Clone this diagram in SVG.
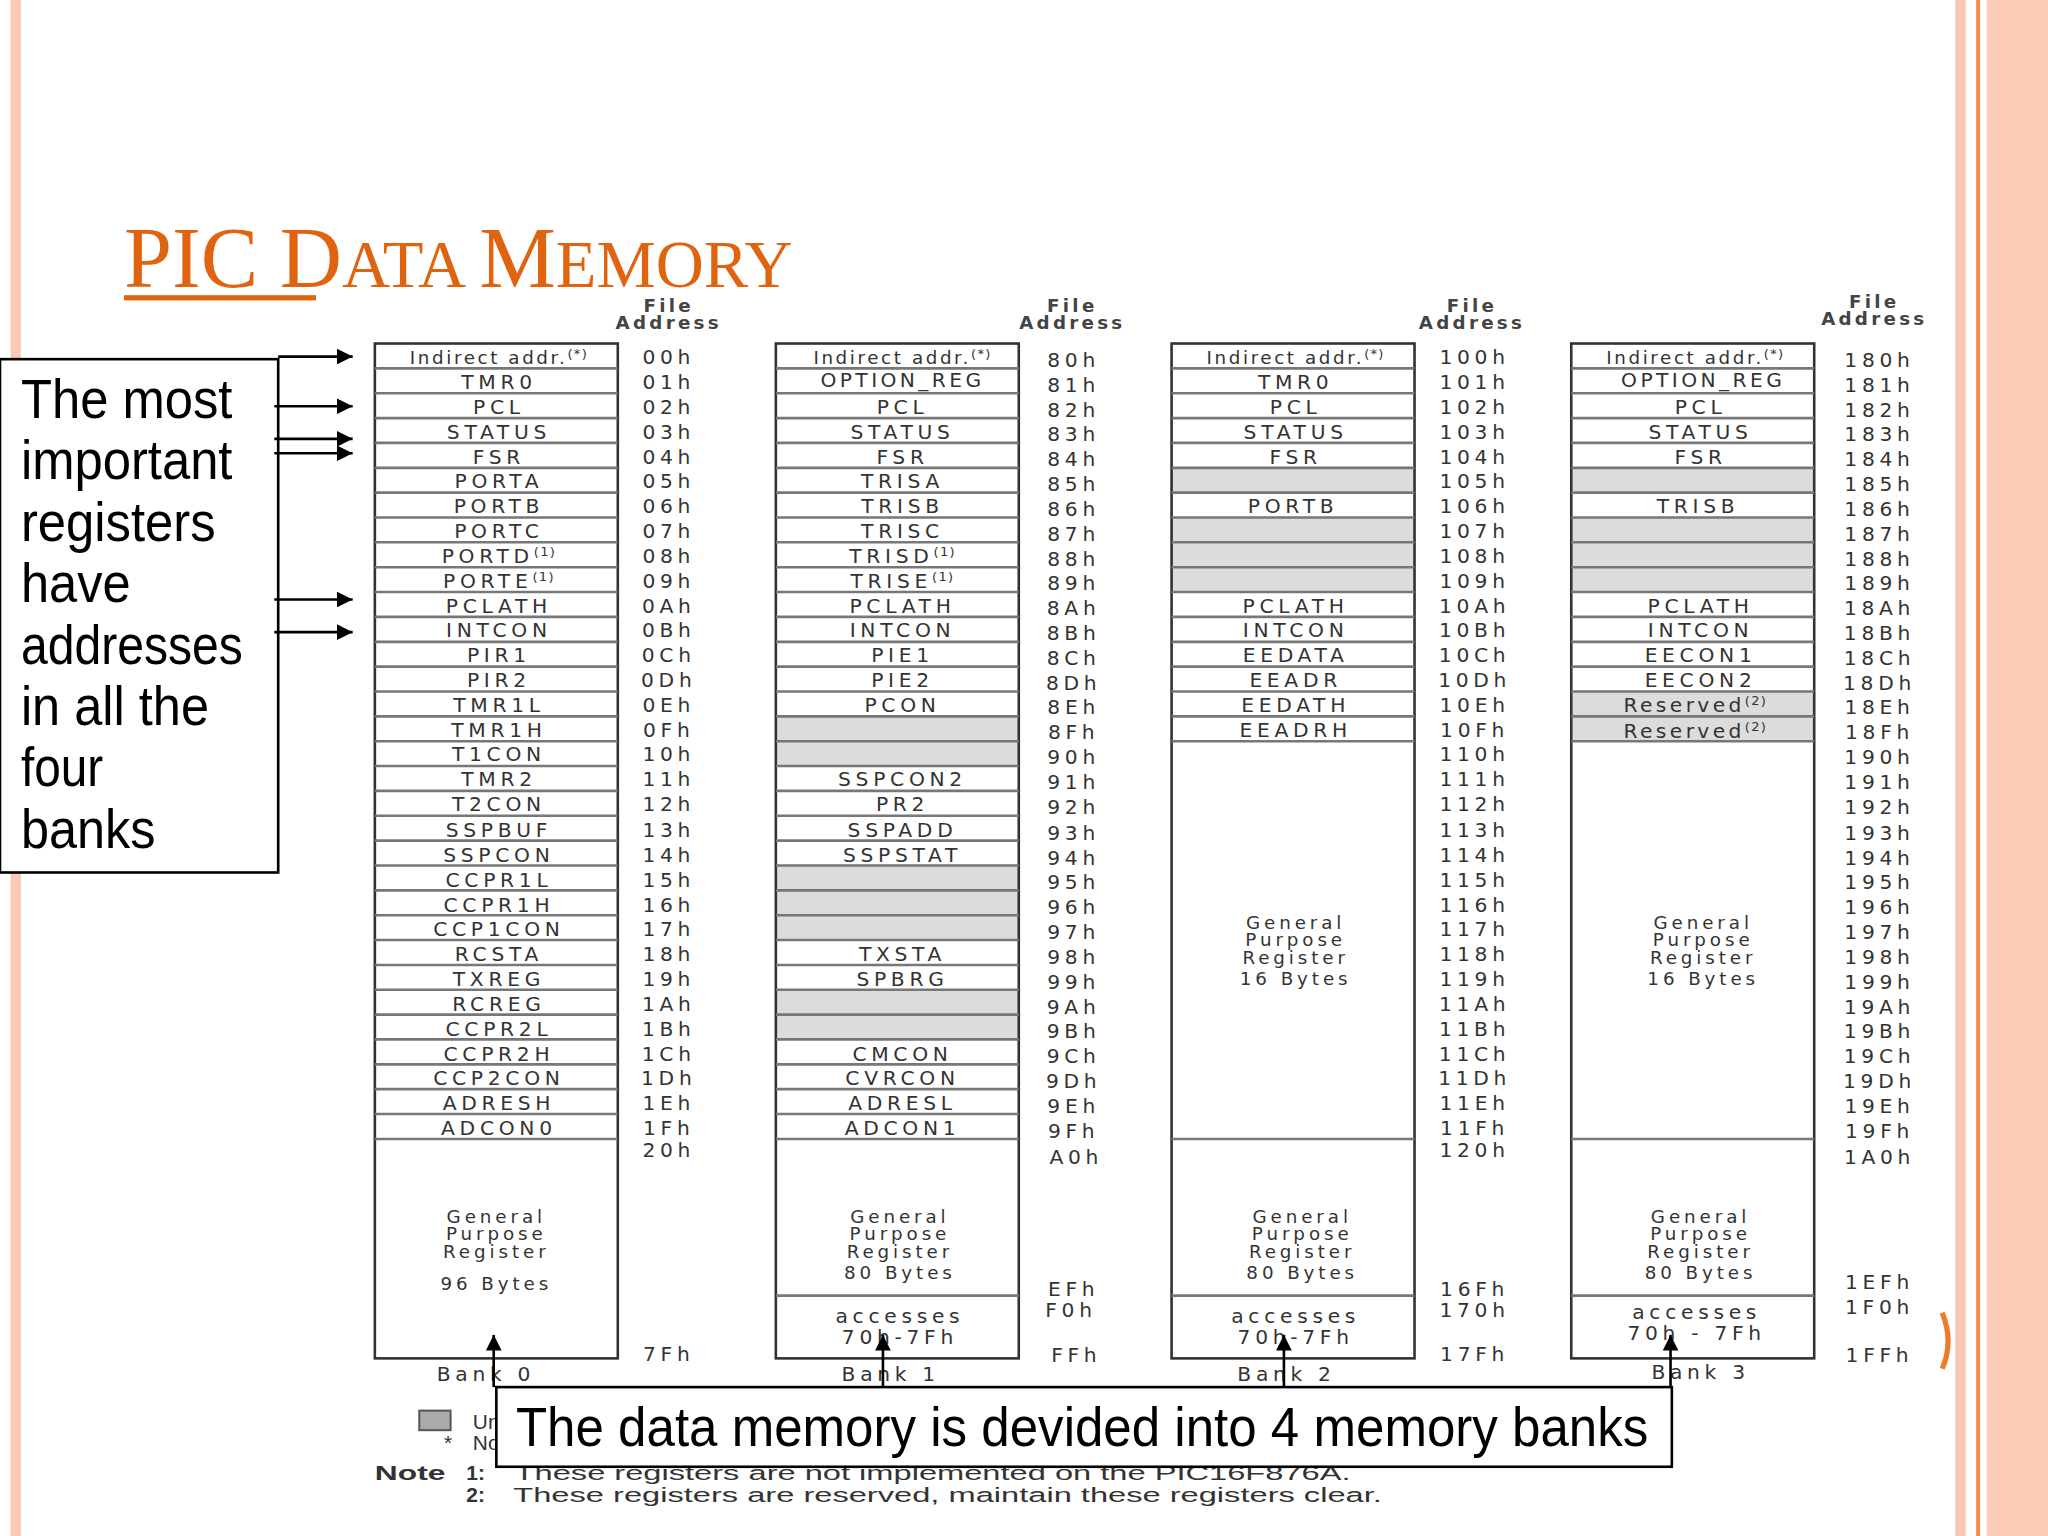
<svg xmlns="http://www.w3.org/2000/svg" width="2048" height="1536" viewBox="0 0 2048 1536">
<defs>
<style>
.r,.a{font-family:"DejaVu Sans","Liberation Sans",sans-serif;font-size:15.5px;letter-spacing:3.6px;fill:#333;text-anchor:middle}
.gp{font-size:14px;letter-spacing:3px}
.h{font-family:"DejaVu Sans","Liberation Sans",sans-serif;font-size:14px;letter-spacing:2.5px;fill:#444;text-anchor:middle;font-weight:bold}
.n{font-family:"Liberation Sans",Arial,sans-serif;font-size:16px;fill:#333}
.nb{font-family:"Liberation Sans",Arial,sans-serif;font-size:16px;fill:#333;font-weight:bold}
.big{font-family:"Liberation Sans",Arial,sans-serif;font-size:42px;fill:#000}
.tb{fill:none;stroke:#333;stroke-width:2}
.ln{fill:none;stroke:#777;stroke-width:2}
.g{fill:#dcdcdc}
.ar{stroke:#000;stroke-width:2;fill:none;marker-end:url(#ah)}
.sup{font-size:10px;letter-spacing:1px}
</style>
<marker id="ah" viewBox="0 0 10 10" refX="10" refY="5" markerWidth="6" markerHeight="6" orient="auto" markerUnits="strokeWidth"><path d="M0,0L10,5L0,10z" fill="#000"/></marker>
</defs>
<rect width="2048" height="1536" fill="#fff"/>
<g transform="scale(1.30612)">
<g id="decor">
<rect x="8" y="0" width="8" height="1176" fill="#f9c9b4"/>
<rect x="1497" y="0" width="8" height="1176" fill="#f9c9b4"/>
<rect x="1513" y="0" width="3" height="1176" fill="#f08a4b"/>
<rect x="1521" y="0" width="47" height="1176" fill="#fbcdb8"/>
<path d="M1487,1005 Q1496,1027 1487,1048" stroke="#f07a2a" stroke-width="4" fill="none"/>
</g>
<g id="title">
<text x="95" y="220" font-family="'Liberation Serif',serif" font-size="66" fill="#e0640f">PIC D<tspan font-size="51">ATA </tspan>M<tspan font-size="51">EMORY</tspan></text>
<rect x="95" y="226" width="147" height="4" fill="#e0640f"/>
</g>
<g id="headers">
<text class="h" x="512" y="239">File</text><text class="h" x="512" y="252">Address</text>
<text class="h" x="821" y="239">File</text><text class="h" x="821" y="252">Address</text>
<text class="h" x="1127" y="239">File</text><text class="h" x="1127" y="252">Address</text>
<text class="h" x="1435" y="236">File</text><text class="h" x="1435" y="249">Address</text>
</g>
<g id="bank0">
<rect class="tb" x="287" y="263" width="186" height="777"/>
<path class="ln" d="M287,282H473M287,301.1H473M287,320.1H473M287,339.1H473M287,358.2H473M287,377.2H473M287,396.2H473M287,415.2H473M287,434.3H473M287,453.3H473M287,472.3H473M287,491.4H473M287,510.4H473M287,529.4H473M287,548.5H473M287,567.5H473M287,586.5H473M287,605.5H473M287,624.6H473M287,643.6H473M287,662.6H473M287,681.7H473M287,700.7H473M287,719.7H473M287,738.8H473M287,757.8H473M287,776.8H473M287,795.8H473M287,814.9H473M287,833.9H473M287,852.9H473M287,872H473"/>
<text class="r" x="382" y="279" style="font-size:14px;letter-spacing:2px">Indirect addr.<tspan class="sup" dy="-5">(*)</tspan></text>
<text class="r" x="382" y="298">TMR0</text><text class="r" x="382" y="317">PCL</text><text class="r" x="382" y="336">STATUS</text><text class="r" x="382" y="355">FSR</text><text class="r" x="382" y="374">PORTA</text><text class="r" x="382" y="393">PORTB</text><text class="r" x="382" y="412">PORTC</text>
<text class="r" x="382" y="431">PORTD<tspan class="sup" dy="-5">(1)</tspan></text><text class="r" x="382" y="450">PORTE<tspan class="sup" dy="-5">(1)</tspan></text>
<text class="r" x="382" y="469">PCLATH</text><text class="r" x="382" y="488">INTCON</text><text class="r" x="382" y="507">PIR1</text><text class="r" x="382" y="526">PIR2</text><text class="r" x="382" y="545">TMR1L</text><text class="r" x="382" y="564">TMR1H</text><text class="r" x="382" y="583">T1CON</text><text class="r" x="382" y="602">TMR2</text><text class="r" x="382" y="621">T2CON</text><text class="r" x="382" y="641">SSPBUF</text><text class="r" x="382" y="660">SSPCON</text><text class="r" x="382" y="679">CCPR1L</text><text class="r" x="382" y="698">CCPR1H</text><text class="r" x="382" y="717">CCP1CON</text><text class="r" x="382" y="736">RCSTA</text><text class="r" x="382" y="755">TXREG</text><text class="r" x="382" y="774">RCREG</text><text class="r" x="382" y="793">CCPR2L</text><text class="r" x="382" y="812">CCPR2H</text><text class="r" x="382" y="831">CCP2CON</text><text class="r" x="382" y="850">ADRESH</text><text class="r" x="382" y="869">ADCON0</text>
<text class="r gp" x="380" y="936">General</text><text class="r gp" x="380" y="949">Purpose</text><text class="r gp" x="380" y="963">Register</text><text class="r gp" x="380" y="988">96 Bytes</text>
<text class="r" x="372" y="1057">Bank 0</text>
</g>
<g id="addr0">
<text class="a" x="512" y="279">00h</text><text class="a" x="512" y="298">01h</text><text class="a" x="512" y="317">02h</text><text class="a" x="512" y="336">03h</text><text class="a" x="512" y="355">04h</text><text class="a" x="512" y="374">05h</text><text class="a" x="512" y="393">06h</text><text class="a" x="512" y="412">07h</text><text class="a" x="512" y="431">08h</text><text class="a" x="512" y="450">09h</text><text class="a" x="512" y="469">0Ah</text><text class="a" x="512" y="488">0Bh</text><text class="a" x="512" y="507">0Ch</text><text class="a" x="512" y="526">0Dh</text><text class="a" x="512" y="545">0Eh</text><text class="a" x="512" y="564">0Fh</text><text class="a" x="512" y="583">10h</text><text class="a" x="512" y="602">11h</text><text class="a" x="512" y="621">12h</text><text class="a" x="512" y="641">13h</text><text class="a" x="512" y="660">14h</text><text class="a" x="512" y="679">15h</text><text class="a" x="512" y="698">16h</text><text class="a" x="512" y="717">17h</text><text class="a" x="512" y="736">18h</text><text class="a" x="512" y="755">19h</text><text class="a" x="512" y="774">1Ah</text><text class="a" x="512" y="793">1Bh</text><text class="a" x="512" y="812">1Ch</text><text class="a" x="512" y="831">1Dh</text><text class="a" x="512" y="850">1Eh</text><text class="a" x="512" y="869">1Fh</text>
<text class="a" x="512" y="886">20h</text><text class="a" x="512" y="1042">7Fh</text>
</g>
<g id="bank1">
<rect class="g" x="594" y="548.5" width="186" height="38"/><rect class="g" x="594" y="662.6" width="186" height="57.1"/><rect class="g" x="594" y="757.8" width="186" height="38"/>
<rect class="tb" x="594" y="263" width="186" height="777"/>
<path class="ln" d="M594,282H780M594,301.1H780M594,320.1H780M594,339.1H780M594,358.2H780M594,377.2H780M594,396.2H780M594,415.2H780M594,434.3H780M594,453.3H780M594,472.3H780M594,491.4H780M594,510.4H780M594,529.4H780M594,548.5H780M594,567.5H780M594,586.5H780M594,605.5H780M594,624.6H780M594,643.6H780M594,662.6H780M594,681.7H780M594,700.7H780M594,719.7H780M594,738.8H780M594,757.8H780M594,776.8H780M594,795.8H780M594,814.9H780M594,833.9H780M594,852.9H780M594,872H780M594,992H780"/>
<text class="r" x="691" y="279" style="font-size:14px;letter-spacing:2px">Indirect addr.<tspan class="sup" dy="-5">(*)</tspan></text>
<text class="r" x="691" y="296" style="letter-spacing:2.6px">OPTION_REG</text><text class="r" x="691" y="317">PCL</text><text class="r" x="691" y="336">STATUS</text><text class="r" x="691" y="355">FSR</text><text class="r" x="691" y="374">TRISA</text><text class="r" x="691" y="393">TRISB</text><text class="r" x="691" y="412">TRISC</text>
<text class="r" x="691" y="431">TRISD<tspan class="sup" dy="-5">(1)</tspan></text><text class="r" x="691" y="450">TRISE<tspan class="sup" dy="-5">(1)</tspan></text>
<text class="r" x="691" y="469">PCLATH</text><text class="r" x="691" y="488">INTCON</text><text class="r" x="691" y="507">PIE1</text><text class="r" x="691" y="526">PIE2</text><text class="r" x="691" y="545">PCON</text>
<text class="r" x="691" y="602">SSPCON2</text><text class="r" x="691" y="621">PR2</text><text class="r" x="691" y="641">SSPADD</text><text class="r" x="691" y="660">SSPSTAT</text>
<text class="r" x="691" y="736">TXSTA</text><text class="r" x="691" y="755">SPBRG</text>
<text class="r" x="691" y="812">CMCON</text><text class="r" x="691" y="831">CVRCON</text><text class="r" x="691" y="850">ADRESL</text><text class="r" x="691" y="869">ADCON1</text>
<text class="r gp" x="689" y="936">General</text><text class="r gp" x="689" y="949">Purpose</text><text class="r gp" x="689" y="963">Register</text><text class="r gp" x="689" y="979">80 Bytes</text>
<text class="r" x="689" y="1013">accesses</text><text class="r" x="689" y="1029">70h-7Fh</text>
<text class="r" x="682" y="1057">Bank 1</text>
</g>
<g id="addr1">
<text class="a" x="822" y="281">80h</text><text class="a" x="822" y="300">81h</text><text class="a" x="822" y="319">82h</text><text class="a" x="822" y="338">83h</text><text class="a" x="822" y="357">84h</text><text class="a" x="822" y="376">85h</text><text class="a" x="822" y="395">86h</text><text class="a" x="822" y="414">87h</text><text class="a" x="822" y="433">88h</text><text class="a" x="822" y="452">89h</text><text class="a" x="822" y="471">8Ah</text><text class="a" x="822" y="490">8Bh</text><text class="a" x="822" y="509">8Ch</text><text class="a" x="822" y="528">8Dh</text><text class="a" x="822" y="547">8Eh</text><text class="a" x="822" y="566">8Fh</text><text class="a" x="822" y="585">90h</text><text class="a" x="822" y="604">91h</text><text class="a" x="822" y="623">92h</text><text class="a" x="822" y="643">93h</text><text class="a" x="822" y="662">94h</text><text class="a" x="822" y="681">95h</text><text class="a" x="822" y="700">96h</text><text class="a" x="822" y="719">97h</text><text class="a" x="822" y="738">98h</text><text class="a" x="822" y="757">99h</text><text class="a" x="822" y="776">9Ah</text><text class="a" x="822" y="795">9Bh</text><text class="a" x="822" y="814">9Ch</text><text class="a" x="822" y="833">9Dh</text><text class="a" x="822" y="852">9Eh</text><text class="a" x="822" y="871">9Fh</text>
<text class="a" x="824" y="891">A0h</text><text class="a" x="822" y="992">EFh</text><text class="a" x="820" y="1008">F0h</text><text class="a" x="824" y="1043">FFh</text>
</g>
<g id="bank2">
<rect class="g" x="897" y="358.2" width="186" height="19"/><rect class="g" x="897" y="396.2" width="186" height="57.1"/>
<rect class="tb" x="897" y="263" width="186" height="777"/>
<path class="ln" d="M897,282H1083M897,301.1H1083M897,320.1H1083M897,339.1H1083M897,358.2H1083M897,377.2H1083M897,396.2H1083M897,415.2H1083M897,434.3H1083M897,453.3H1083M897,472.3H1083M897,491.4H1083M897,510.4H1083M897,529.4H1083M897,548.5H1083M897,567.5H1083M897,872H1083M897,992H1083"/>
<text class="r" x="992" y="279" style="font-size:14px;letter-spacing:2px">Indirect addr.<tspan class="sup" dy="-5">(*)</tspan></text>
<text class="r" x="992" y="298">TMR0</text><text class="r" x="992" y="317">PCL</text><text class="r" x="992" y="336">STATUS</text><text class="r" x="992" y="355">FSR</text><text class="r" x="990" y="393">PORTB</text>
<text class="r" x="992" y="469">PCLATH</text><text class="r" x="992" y="488">INTCON</text><text class="r" x="992" y="507">EEDATA</text><text class="r" x="992" y="526">EEADR</text><text class="r" x="992" y="545">EEDATH</text><text class="r" x="992" y="564">EEADRH</text>
<text class="r gp" x="992" y="711">General</text><text class="r gp" x="992" y="724">Purpose</text><text class="r gp" x="992" y="738">Register</text><text class="r gp" x="992" y="754">16 Bytes</text>
<text class="r gp" x="997" y="936">General</text><text class="r gp" x="997" y="949">Purpose</text><text class="r gp" x="997" y="963">Register</text><text class="r gp" x="997" y="979">80 Bytes</text>
<text class="r" x="992" y="1013">accesses</text><text class="r" x="992" y="1029">70h-7Fh</text>
<text class="r" x="985" y="1057">Bank 2</text>
</g>
<g id="addr2">
<text class="a" x="1129" y="279">100h</text><text class="a" x="1129" y="298">101h</text><text class="a" x="1129" y="317">102h</text><text class="a" x="1129" y="336">103h</text><text class="a" x="1129" y="355">104h</text><text class="a" x="1129" y="374">105h</text><text class="a" x="1129" y="393">106h</text><text class="a" x="1129" y="412">107h</text><text class="a" x="1129" y="431">108h</text><text class="a" x="1129" y="450">109h</text><text class="a" x="1129" y="469">10Ah</text><text class="a" x="1129" y="488">10Bh</text><text class="a" x="1129" y="507">10Ch</text><text class="a" x="1129" y="526">10Dh</text><text class="a" x="1129" y="545">10Eh</text><text class="a" x="1129" y="564">10Fh</text><text class="a" x="1129" y="583">110h</text><text class="a" x="1129" y="602">111h</text><text class="a" x="1129" y="621">112h</text><text class="a" x="1129" y="641">113h</text><text class="a" x="1129" y="660">114h</text><text class="a" x="1129" y="679">115h</text><text class="a" x="1129" y="698">116h</text><text class="a" x="1129" y="717">117h</text><text class="a" x="1129" y="736">118h</text><text class="a" x="1129" y="755">119h</text><text class="a" x="1129" y="774">11Ah</text><text class="a" x="1129" y="793">11Bh</text><text class="a" x="1129" y="812">11Ch</text><text class="a" x="1129" y="831">11Dh</text><text class="a" x="1129" y="850">11Eh</text><text class="a" x="1129" y="869">11Fh</text>
<text class="a" x="1129" y="886">120h</text><text class="a" x="1129" y="992">16Fh</text><text class="a" x="1129" y="1008">170h</text><text class="a" x="1129" y="1042">17Fh</text>
</g>
<g id="bank3">
<rect class="g" x="1203" y="358.2" width="186" height="19"/><rect class="g" x="1203" y="396.2" width="186" height="57.1"/><rect class="g" x="1203" y="529.4" width="186" height="38.1"/>
<rect class="tb" x="1203" y="263" width="186" height="777"/>
<path class="ln" d="M1203,282H1389M1203,301.1H1389M1203,320.1H1389M1203,339.1H1389M1203,358.2H1389M1203,377.2H1389M1203,396.2H1389M1203,415.2H1389M1203,434.3H1389M1203,453.3H1389M1203,472.3H1389M1203,491.4H1389M1203,510.4H1389M1203,529.4H1389M1203,548.5H1389M1203,567.5H1389M1203,872H1389M1203,992H1389"/>
<text class="r" x="1298" y="279" style="font-size:14px;letter-spacing:2px">Indirect addr.<tspan class="sup" dy="-5">(*)</tspan></text>
<text class="r" x="1304" y="296" style="letter-spacing:2.6px">OPTION_REG</text><text class="r" x="1302" y="317">PCL</text><text class="r" x="1302" y="336">STATUS</text><text class="r" x="1302" y="355">FSR</text><text class="r" x="1300" y="393">TRISB</text>
<text class="r" x="1302" y="469">PCLATH</text><text class="r" x="1302" y="488">INTCON</text><text class="r" x="1302" y="507">EECON1</text><text class="r" x="1302" y="526">EECON2</text>
<text class="r" x="1298" y="545" style="letter-spacing:2.6px">Reserved<tspan class="sup" dy="-5">(2)</tspan></text><text class="r" x="1298" y="565" style="letter-spacing:2.6px">Reserved<tspan class="sup" dy="-5">(2)</tspan></text>
<text class="r gp" x="1304" y="711">General</text><text class="r gp" x="1304" y="724">Purpose</text><text class="r gp" x="1304" y="738">Register</text><text class="r gp" x="1304" y="754">16 Bytes</text>
<text class="r gp" x="1302" y="936">General</text><text class="r gp" x="1302" y="949">Purpose</text><text class="r gp" x="1302" y="963">Register</text><text class="r gp" x="1302" y="979">80 Bytes</text>
<text class="r" x="1299" y="1010">accesses</text><text class="r" x="1299" y="1026">70h - 7Fh</text>
<text class="r" x="1302" y="1056">Bank 3</text>
</g>
<g id="addr3">
<text class="a" x="1439" y="281">180h</text><text class="a" x="1439" y="300">181h</text><text class="a" x="1439" y="319">182h</text><text class="a" x="1439" y="338">183h</text><text class="a" x="1439" y="357">184h</text><text class="a" x="1439" y="376">185h</text><text class="a" x="1439" y="395">186h</text><text class="a" x="1439" y="414">187h</text><text class="a" x="1439" y="433">188h</text><text class="a" x="1439" y="452">189h</text><text class="a" x="1439" y="471">18Ah</text><text class="a" x="1439" y="490">18Bh</text><text class="a" x="1439" y="509">18Ch</text><text class="a" x="1439" y="528">18Dh</text><text class="a" x="1439" y="547">18Eh</text><text class="a" x="1439" y="566">18Fh</text><text class="a" x="1439" y="585">190h</text><text class="a" x="1439" y="604">191h</text><text class="a" x="1439" y="623">192h</text><text class="a" x="1439" y="643">193h</text><text class="a" x="1439" y="662">194h</text><text class="a" x="1439" y="681">195h</text><text class="a" x="1439" y="700">196h</text><text class="a" x="1439" y="719">197h</text><text class="a" x="1439" y="738">198h</text><text class="a" x="1439" y="757">199h</text><text class="a" x="1439" y="776">19Ah</text><text class="a" x="1439" y="795">19Bh</text><text class="a" x="1439" y="814">19Ch</text><text class="a" x="1439" y="833">19Dh</text><text class="a" x="1439" y="852">19Eh</text><text class="a" x="1439" y="871">19Fh</text>
<text class="a" x="1439" y="891">1A0h</text><text class="a" x="1439" y="987">1EFh</text><text class="a" x="1439" y="1006">1F0h</text><text class="a" x="1439" y="1043">1FFh</text>
</g>
<g id="notes">
<rect x="321" y="1080" width="24" height="15" fill="#aaa" stroke="#555" stroke-width="1.5"/>
<text class="n" x="362" y="1094">Unimplemented data memory locations, read as '0'.</text>
<text class="n" x="340" y="1110">*</text>
<text class="n" x="362" y="1110">Not a physical register.</text>
<text class="nb" x="287" y="1133" textLength="54" lengthAdjust="spacingAndGlyphs">Note</text>
<text class="nb" x="357" y="1133">1:</text>
<text class="n" x="394" y="1133" textLength="640" lengthAdjust="spacingAndGlyphs">These registers are not implemented on the PIC16F876A.</text>
<text class="nb" x="357" y="1150">2:</text>
<text class="n" x="393" y="1150" textLength="665" lengthAdjust="spacingAndGlyphs">These registers are reserved, maintain these registers clear.</text>
</g>
<g id="callout-left">
<rect x="0" y="275" width="213" height="393" fill="#fff" stroke="#000" stroke-width="2"/>
<text class="big" x="16" y="320" textLength="162" lengthAdjust="spacingAndGlyphs">The most</text>
<text class="big" x="16" y="367" textLength="162" lengthAdjust="spacingAndGlyphs">important</text>
<text class="big" x="16" y="414" textLength="149" lengthAdjust="spacingAndGlyphs">registers</text>
<text class="big" x="16" y="461" textLength="84" lengthAdjust="spacingAndGlyphs">have</text>
<text class="big" x="16" y="508" textLength="170" lengthAdjust="spacingAndGlyphs">addresses</text>
<text class="big" x="16" y="555" textLength="144" lengthAdjust="spacingAndGlyphs">in all the</text>
<text class="big" x="16" y="602" textLength="63" lengthAdjust="spacingAndGlyphs">four</text>
<text class="big" x="16" y="649" textLength="103" lengthAdjust="spacingAndGlyphs">banks</text>
</g>
<g id="callout-bottom">
<rect x="380" y="1062" width="900" height="61" fill="#fff" stroke="#000" stroke-width="2"/>
<text class="big" x="395" y="1107" textLength="867" lengthAdjust="spacingAndGlyphs">The data memory is devided into 4 memory banks</text>
</g>
<g id="connectors">
<path class="ar" d="M213,273H270"/>
<path class="ar" d="M210,311H270"/>
<path class="ar" d="M210,336H270"/>
<path class="ar" d="M210,347H270"/>
<path class="ar" d="M210,459H270"/>
<path class="ar" d="M210,484H270"/>
<path class="ar" d="M378,1062V1022"/>
<path class="ar" d="M676,1062V1022"/>
<path class="ar" d="M983,1062V1022"/>
<path class="ar" d="M1279,1062V1022"/>
</g>
</g>
</svg>
